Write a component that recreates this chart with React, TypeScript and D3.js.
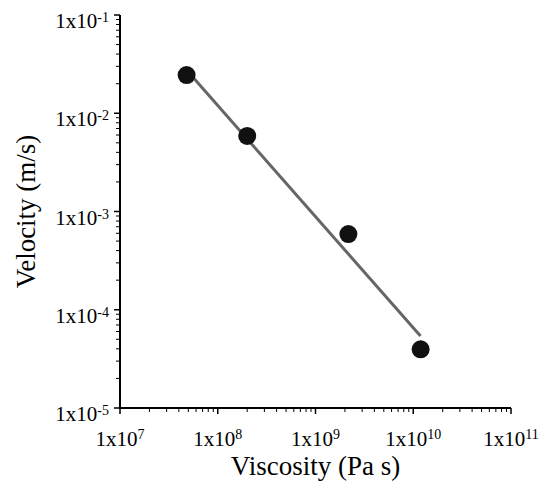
import React from 'react';
import * as d3 from 'd3';

// measured points
const viscosity = [4.8e7, 2.0e8, 2.17e9, 1.19e10];
const velocity = [0.0245, 5.87e-3, 5.9e-4, 3.96e-5];

// fitted power law, drawn between its two ends
const fitViscosity = [5.0e7, 1.186e10];
const fitVelocity = [0.0263, 5.4e-5];

const xDecades = [7, 8, 9, 10, 11];
const yDecades = [-1, -2, -3, -4, -5];

const W = 550;
const H = 487;
const margin = {top: 15, right: 39, bottom: 79, left: 120};
const font = '"Liberation Serif", "Times New Roman", serif';

export default function App() {
    const x = d3.scaleLog().domain([1e7, 1e11]).range([margin.left, W - margin.right]);
    const y = d3.scaleLog().domain([1e-5, 1e-1]).range([H - margin.bottom, margin.top]);
    const x0 = margin.left;
    const y0 = H - margin.bottom;

    // minor ticks at 2..9 within each decade
    const minorX: number[] = [];
    for (let e = 7; e < 11; e++) for (let m = 2; m <= 9; m++) minorX.push(m * Math.pow(10, e));
    const minorY: number[] = [];
    for (let e = -5; e < -1; e++) for (let m = 2; m <= 9; m++) minorY.push(m * Math.pow(10, e));

    const fit = d3.line<number>()
        .x((d, i) => x(fitViscosity[i]))
        .y((d) => y(d));

    return (
        <svg width={W} height={H} style={{position: 'absolute', left: 0, top: 0, background: '#fff'}}>
            <path d={fit(fitVelocity) || ''} stroke="#666" strokeWidth={3} fill="none"/>
            {viscosity.map((v, i) => (
                <circle key={i} cx={x(v)} cy={y(velocity[i])} r={9} fill="#111"/>
            ))}

            {/* axes */}
            <line x1={x0} x2={x0} y1={margin.top} y2={y0 + 1} stroke="#000" strokeWidth={2}/>
            <line x1={x0 - 1} x2={W - margin.right} y1={y0} y2={y0} stroke="#000" strokeWidth={2}/>

            {minorX.map((v, i) => (
                <line key={'mx' + i} x1={x(v)} x2={x(v)} y1={y0} y2={y0 + 4} stroke="#000" strokeWidth={1}/>
            ))}
            {minorY.map((v, i) => (
                <line key={'my' + i} x1={x0 - 4} x2={x0} y1={y(v)} y2={y(v)} stroke="#000" strokeWidth={1}/>
            ))}

            {xDecades.map(e => (
                <g key={'x' + e} transform={`translate(${x(Math.pow(10, e))},${y0})`}>
                    <line y1={0} y2={6} stroke="#000" strokeWidth={1.5}/>
                    <text y={38} textAnchor="middle" fontFamily={font} fontSize={21} fill="#000">
                        1x10<tspan dy={-7} fontSize={14}>{e}</tspan>
                    </text>
                </g>
            ))}
            {yDecades.map(e => (
                <g key={'y' + e} transform={`translate(${x0},${y(Math.pow(10, e))})`}>
                    <line x1={-6} x2={0} stroke="#000" strokeWidth={1.5}/>
                    <text x={-11} y={13} textAnchor="end" fontFamily={font} fontSize={21} fill="#000">
                        1x10<tspan dy={-6} fontSize={14}>{e}</tspan>
                    </text>
                </g>
            ))}

            <text x={(x0 + W - margin.right) / 2} y={475} textAnchor="middle" fontFamily={font} fontSize={27} fill="#000">
                Viscosity (Pa s)
            </text>
            <text transform={`translate(35,${(margin.top + y0) / 2}) rotate(-90)`} textAnchor="middle" fontFamily={font} fontSize={27} fill="#000">
                Velocity (m/s)
            </text>
        </svg>
    );
}
